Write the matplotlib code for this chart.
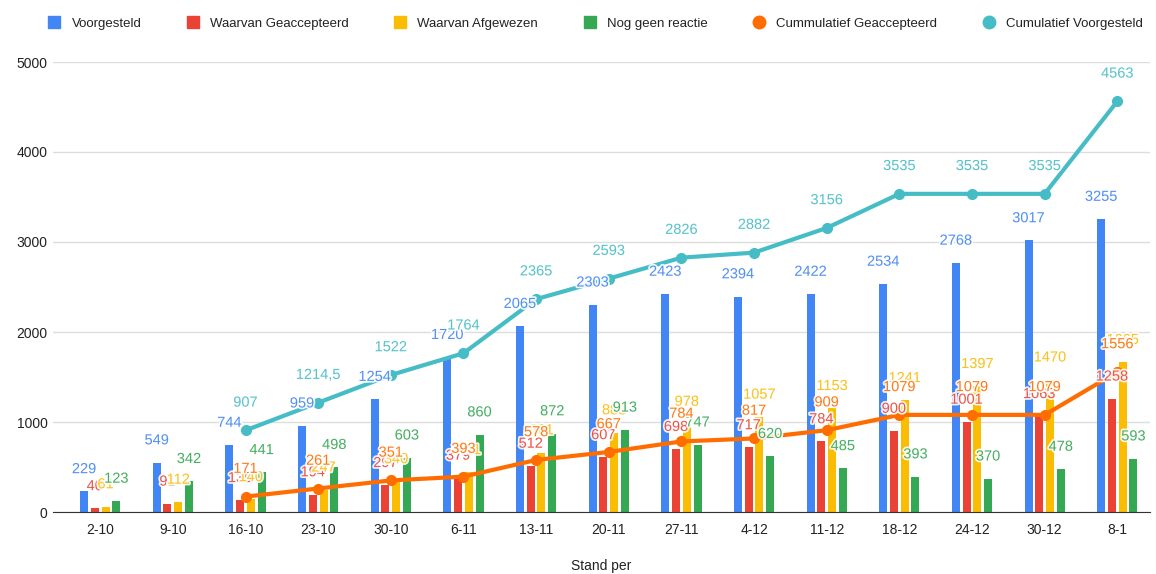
import numpy as np
import matplotlib
matplotlib.use("Agg")
import matplotlib.pyplot as plt
from matplotlib.lines import Line2D
import matplotlib.patheffects as pe

plt.rcParams['font.family'] = ['Liberation Sans', 'DejaVu Sans']

# data
datums = ["2-10", "9-10", "16-10", "23-10", "30-10", "6-11", "13-11", "20-11",
          "27-11", "4-12", "11-12", "18-12", "24-12", "30-12", "8-1"]
voorgesteld = [229, 549, 744, 959, 1254, 1720, 2065, 2303, 2423, 2394, 2422, 2534, 2768, 3017, 3255]
geaccepteerd = [40, 91, 130, 194, 297, 379, 512, 607, 698, 717, 784, 900, 1001, 1063, 1258]
afgewezen = [61, 112, 140, 247, 340, 441, 661, 883, 978, 1057, 1153, 1241, 1397, 1470, 1665]
geen_reactie = [123, 342, 441, 498, 603, 860, 872, 913, 747, 620, 485, 393, 370, 478, 593]
cum_geaccepteerd = [np.nan, np.nan, 171, 261, 351, 393, 578, 667, 784, 817, 909, 1079, 1079, 1079, 1556]
cum_voorgesteld = [np.nan, np.nan, 907, 1214.5, 1522, 1764, 2365, 2593, 2826, 2882, 3156, 3535, 3535, 3535, 4563]

c_blauw = "#4285F4"
c_rood = "#EA4335"
c_geel = "#FBBC04"
c_groen = "#34A853"
c_oranje = "#FF6D01"
c_cyaan = "#46BDC6"

def fmt(v):
    return f"{v:g}".replace(".", ",")

halo = [pe.withStroke(linewidth=2.5, foreground="white")]

fig = plt.figure(figsize=(11.56, 5.74), dpi=100)
ax = fig.add_axes([53/1156, 62/574, (1150-53)/1156, 450/574])

x = np.arange(len(datums))
bw = 0.11
step = 0.148
reeksen = [(voorgesteld, c_blauw), (geaccepteerd, c_rood), (afgewezen, c_geel), (geen_reactie, c_groen)]
for i, (vals, kleur) in enumerate(reeksen):
    xs = x + (i - 1.5) * step
    ax.bar(xs, vals, width=bw, color=kleur, zorder=2)
    for xi, v in zip(xs, vals):
        ax.annotate(str(v), (xi, v), xytext=(0, 16), textcoords="offset points",
                    ha="center", va="center", color=kleur, fontsize=10.5,
                    path_effects=halo, zorder=5, alpha=0.9)

for vals, kleur in [(cum_geaccepteerd, c_oranje), (cum_voorgesteld, c_cyaan)]:
    ax.plot(x, vals, color=kleur, lw=3, marker="o", ms=7, zorder=3, solid_capstyle="round")
    for xi, v in zip(x, vals):
        if np.isnan(v):
            continue
        ax.annotate(fmt(v), (xi, v), xytext=(0, 20), textcoords="offset points",
                    ha="center", va="center", color=kleur, fontsize=10.5,
                    path_effects=halo, zorder=6, alpha=0.9)

ax.set_xlim(-0.65, 14.45)
ax.set_ylim(0, 5000)
ax.set_yticks(range(0, 5001, 1000))
ax.set_xticks(x)
ax.set_xticklabels(datums)
ax.grid(axis="y", color="#dddddd", lw=1, zorder=0)
ax.set_axisbelow(True)
for s in ["top", "right", "left"]:
    ax.spines[s].set_visible(False)
ax.spines["bottom"].set_color("#333333")
ax.tick_params(axis="both", length=0, labelsize=10, colors="#222222")
ax.tick_params(axis="y", pad=4)
ax.tick_params(axis="x", pad=8)
ax.set_xlabel("Stand per", fontsize=10, color="#222222", labelpad=16)

handles = [
    Line2D([], [], marker="s", ls="none", color=c_blauw, ms=9),
    Line2D([], [], marker="s", ls="none", color=c_rood, ms=9),
    Line2D([], [], marker="s", ls="none", color=c_geel, ms=9),
    Line2D([], [], marker="s", ls="none", color=c_groen, ms=9),
    Line2D([], [], marker="o", ls="none", color=c_oranje, ms=9),
    Line2D([], [], marker="o", ls="none", color=c_cyaan, ms=9),
]
namen = ["Voorgesteld", "Waarvan Geaccepteerd", "Waarvan Afgewezen", "Nog geen reactie",
         "Cummulatief Geaccepteerd", "Cumulatief Voorgesteld"]
fig.legend(handles, namen, loc="upper center", bbox_to_anchor=(0.512, 0.99), ncol=6,
           frameon=False, fontsize=9.5, handletextpad=0.3, columnspacing=2.9,
           labelcolor="#222222")

fig.savefig("out.png", dpi=100)
